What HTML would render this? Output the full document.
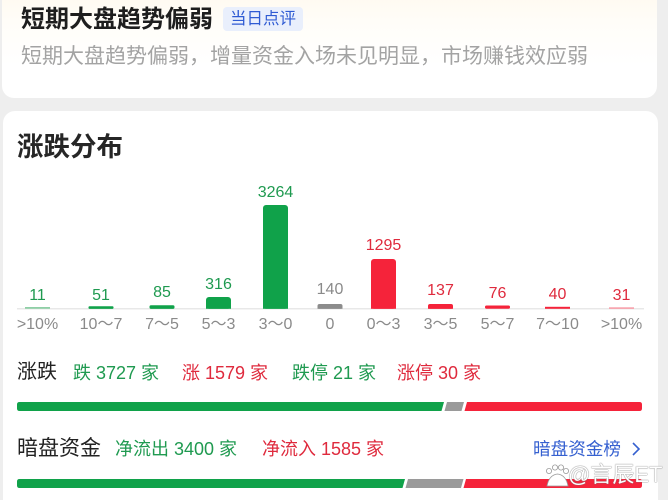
<!DOCTYPE html>
<html><head><meta charset="utf-8">
<style>
html,body{margin:0;padding:0;width:668px;height:500px;overflow:hidden;}
body{background:#eeeeee;position:relative;font-family:"Liberation Sans","Noto Sans CJK SC",sans-serif;}
.card1{position:absolute;left:2px;top:-12px;width:655px;height:110px;background:linear-gradient(#fff9ee 0%,#fffdf8 30%,#ffffff 70%);border-radius:12px;}
.card2{position:absolute;left:3px;top:111px;width:655px;height:389px;background:#fff;border-radius:12px 12px 0 0;}
.t{position:absolute;white-space:nowrap;}
.g{color:#1f9a50;}
.r{color:#df2a3d;}
svg{position:absolute;left:0;top:0;}
</style></head>
<body>
<div class="card1"></div>
<div class="card2"></div>

<div class="t" style="left:21px;top:8px;font-size:24px;line-height:24px;font-weight:bold;color:#1e1e1e;">短期大盘趋势偏弱</div>
<div class="t" style="left:223px;top:7px;width:80px;height:24px;background:#e9effc;border-radius:4px;font-size:16.5px;line-height:24px;color:#2f5bd3;text-align:center;">当日点评</div>
<div class="t" style="left:21px;top:46px;font-size:21px;line-height:22px;color:#a3a3a3;">短期大盘趋势偏弱，增量资金入场未见明显，市场赚钱效应弱</div>

<div class="t" style="left:17px;top:134px;font-size:26.5px;line-height:27px;font-weight:600;color:#262626;">涨跌分布</div>

<svg width="668" height="500" viewBox="0 0 668 500">
  <line x1="17" y1="308.8" x2="644" y2="308.8" stroke="#e8e8e8" stroke-width="1.5"/>
  <rect x="25" y="307" width="25" height="1.8" fill="#8fcfa6"/>
  <rect x="88.5" y="306.3" width="25" height="2.6" rx="1" fill="#10a24a"/>
  <rect x="149.5" y="305.3" width="25" height="3.6" rx="1.5" fill="#10a24a"/>
  <rect x="206" y="297" width="25" height="11.8" rx="3" fill="#10a24a"/>
  <rect x="206" y="302" width="25" height="6.8" fill="#10a24a"/>
  <rect x="263" y="205" width="25" height="103.8" rx="3" fill="#10a24a"/>
  <rect x="263" y="212" width="25" height="96.8" fill="#10a24a"/>
  <rect x="317.5" y="304" width="25" height="4.8" rx="2" fill="#8c8c8c"/>
  <rect x="317.5" y="306" width="25" height="2.8" fill="#8c8c8c"/>
  <rect x="371" y="259" width="25" height="49.8" rx="3" fill="#f5233a"/>
  <rect x="371" y="265" width="25" height="43.8" fill="#f5233a"/>
  <rect x="428" y="304" width="25" height="4.8" rx="2" fill="#f5233a"/>
  <rect x="428" y="306" width="25" height="2.8" fill="#f5233a"/>
  <rect x="485" y="305.5" width="25" height="3.3" rx="1.5" fill="#f5233a"/>
  <rect x="545" y="306.8" width="25" height="2" fill="#f5233a"/>
  <rect x="609" y="307.3" width="25" height="1.6" fill="#f7a0aa"/>

  <g font-family="Liberation Sans, Noto Sans CJK SC, sans-serif" font-size="16" text-anchor="middle">
    <text x="37.5" y="300" fill="#1f9a50">11</text>
    <text x="101" y="300" fill="#1f9a50">51</text>
    <text x="162" y="297" fill="#1f9a50">85</text>
    <text x="218.5" y="289" fill="#1f9a50">316</text>
    <text x="275.5" y="197" fill="#1f9a50">3264</text>
    <text x="330" y="294" fill="#8a8a8a">140</text>
    <text x="383.5" y="250" fill="#df2a3d">1295</text>
    <text x="440.5" y="295" fill="#df2a3d">137</text>
    <text x="497.5" y="298" fill="#df2a3d">76</text>
    <text x="557.5" y="299" fill="#df2a3d">40</text>
    <text x="621.5" y="300" fill="#df2a3d">31</text>
  </g>
  <g font-family="Liberation Sans, Noto Sans CJK SC, sans-serif" font-size="16" text-anchor="middle" fill="#8a8a8a">
    <text x="37.5" y="329">&gt;10%</text>
    <text x="101" y="329">10～7</text>
    <text x="162" y="329">7～5</text>
    <text x="218.5" y="329">5～3</text>
    <text x="275.5" y="329">3～0</text>
    <text x="330" y="329">0</text>
    <text x="383.5" y="329">0～3</text>
    <text x="440.5" y="329">3～5</text>
    <text x="497.5" y="329">5～7</text>
    <text x="557.5" y="329">7～10</text>
    <text x="621.5" y="329">&gt;10%</text>
  </g>

  <path d="M19.5,402 H444 L441.5,411 H19.5 Q17,411 17,408.5 V404.5 Q17,402 19.5,402 Z" fill="#10a24a"/>
  <path d="M447,402 H464 L461.5,411 H444.5 Z" fill="#9a9a9a"/>
  <path d="M467,402 H639.5 Q642,402 642,404.5 V408.5 Q642,411 639.5,411 H464.5 Z" fill="#f5233a"/>
  <path d="M19.5,479 H405 L402.5,488 H19.5 Q17,488 17,485.5 V481.5 Q17,479 19.5,479 Z" fill="#10a24a"/>
  <path d="M408,479 H463.5 L461,488 H405.5 Z" fill="#9a9a9a"/>
  <path d="M466,479 H639.5 Q642,479 642,481.5 V485.5 Q642,488 639.5,488 H463.5 Z" fill="#f5233a"/>

  <path d="M633,443 L639,449 L633,455" fill="none" stroke="#3560d0" stroke-width="1.6"/>

  <g fill="#ffffff" stroke="#9a9a9a" stroke-width="0.8">
    <circle cx="549" cy="471" r="2.6"/>
    <circle cx="555" cy="467.5" r="2.6"/>
    <circle cx="561" cy="467.5" r="2.6"/>
    <circle cx="566" cy="471" r="2.6"/>
    <path d="M547,486 Q549,475 557.5,474 Q566,475 568,486 Z"/>
  </g>
</svg>

<div class="t" style="left:17px;top:362px;font-size:20px;line-height:21px;color:#222;">涨跌</div>
<div class="t g" style="left:73px;top:364px;font-size:18px;line-height:19px;">跌 3727 家</div>
<div class="t r" style="left:182px;top:364px;font-size:18px;line-height:19px;">涨 1579 家</div>
<div class="t g" style="left:292px;top:364px;font-size:18px;line-height:19px;">跌停 21 家</div>
<div class="t r" style="left:397px;top:364px;font-size:18px;line-height:19px;">涨停 30 家</div>

<div class="t" style="left:17px;top:438px;font-size:21px;line-height:22px;color:#222;">暗盘资金</div>
<div class="t g" style="left:115px;top:440px;font-size:18px;line-height:19px;">净流出 3400 家</div>
<div class="t r" style="left:262px;top:440px;font-size:18px;line-height:19px;">净流入 1585 家</div>
<div class="t" style="left:533px;top:440px;font-size:17.6px;line-height:19px;color:#3560d0;">暗盘资金榜</div>

<div class="t" style="left:568px;top:463px;font-size:22px;line-height:24px;color:#ffffff;text-shadow:0 0 1px #777,0 0 1px #777;">@言辰ET</div>
</body></html>
